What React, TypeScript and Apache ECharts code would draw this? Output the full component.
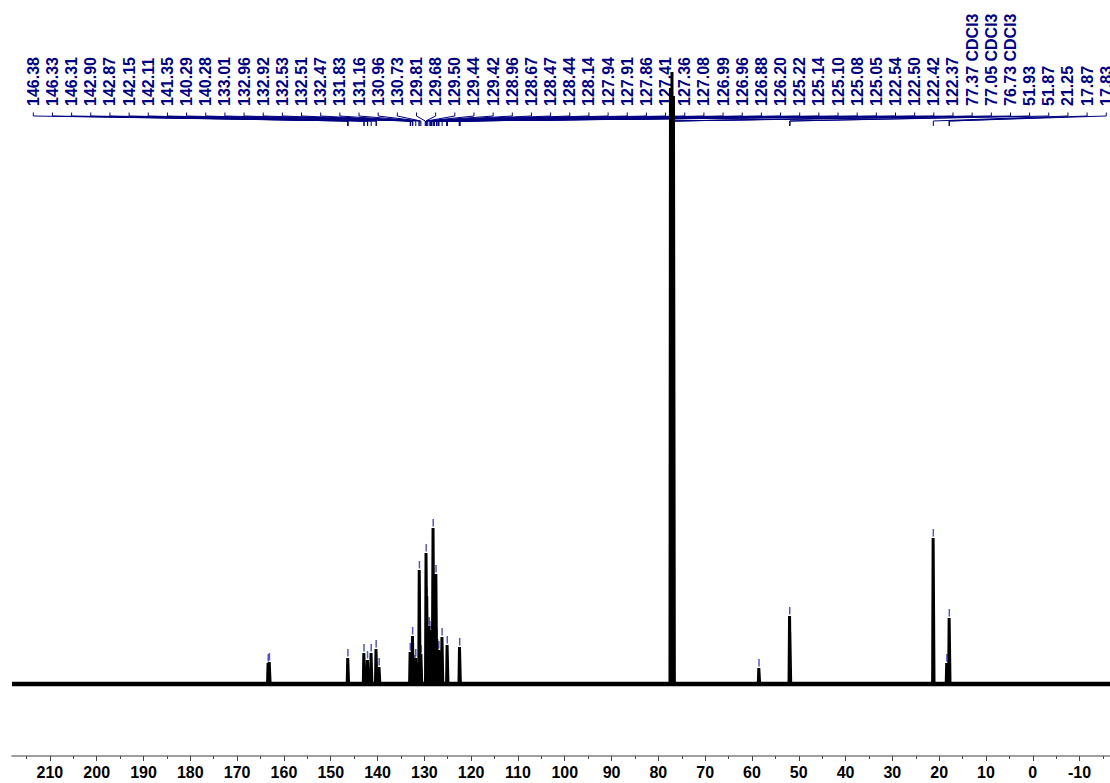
import React, { useEffect, useRef } from "react";
import * as echarts from "echarts";

// ---- data ----
const AXIS_MIN = -16.5;
const AXIS_MAX = 218.1;
const MAJOR_TICKS = [-10, 0, 10, 20, 30, 40, 50, 60, 70, 80, 90, 100, 110, 120, 130, 140, 150, 160, 170, 180, 190, 200, 210];
const MINOR_TICKS = [-15, -5, 5, 15, 25, 35, 45, 55, 65, 75, 85, 95, 105, 115, 125, 135, 145, 155, 165, 175, 185, 195, 205, 215];

const PEAK_LABELS = [
  "146.38", "146.33", "146.31", "142.90", "142.87", "142.15", "142.11", "141.35", "140.29", "140.28",
  "133.01", "132.96", "132.92", "132.53", "132.51", "132.47", "131.83", "131.16", "130.96", "130.73",
  "129.81", "129.68", "129.50", "129.44", "129.42", "128.96", "128.67", "128.47", "128.44", "128.14",
  "127.94", "127.91", "127.86", "127.41", "127.36", "127.08", "126.99", "126.96", "126.88", "126.20",
  "125.22", "125.14", "125.10", "125.08", "125.05", "122.54", "122.50", "122.42", "122.37",
  "77.37 CDCl3", "77.05 CDCl3", "76.73 CDCl3", "51.93", "51.87", "21.25", "17.87", "17.83",
];

// spectrum peaks (ppm, intensity above baseline)
const PEAK_PPM = [
  163.35, 163.1, 146.33, 142.89, 142.13, 141.35, 140.29, 139.65,
  133.0, 132.5, 132.0, 131.83, 131.05, 130.7, 129.6, 129.45, 128.96, 128.8, 128.45, 128.1,
  127.9, 127.5, 127.3, 126.9, 126.2, 125.1, 122.45,
  77.37, 77.05, 76.73, 58.5, 51.93, 51.87, 21.25, 18.35, 17.83,
];
const PEAK_HEIGHT = [
  21, 22, 26, 31, 24, 31, 35, 17,
  32, 48, 20, 26, 114, 30, 131, 88, 58, 54, 45, 156,
  60, 110, 45, 34, 47, 39, 37,
  596, 612, 588, 16, 68, 52, 146, 21, 66,
];

// ---- layout ----
const W = 1110;
const H = 783;
const LABEL_X0 = 33.3;
const LABEL_STEP = 19.16;
const NAVY = "#000080";

export default function App() {
  const ref = useRef<HTMLDivElement>(null);

  useEffect(() => {
    if (!ref.current) return;
    const chart = echarts.init(ref.current, undefined, { renderer: "svg" });

    const order = PEAK_PPM.map((p, i) => i).sort((a, b) => PEAK_PPM[b] - PEAK_PPM[a]);
    const spectrum: number[][] = [[AXIS_MAX, 0]];
    order.forEach((i) => {
      const p = PEAK_PPM[i];
      const h = PEAK_HEIGHT[i];
      spectrum.push([p + 0.15, 0], [p + 0.04, h], [p - 0.04, h], [p - 0.15, 0]);
    });
    spectrum.push([AXIS_MIN, 0]);

    const labelData = PEAK_LABELS.map((t, i) => [parseFloat(t), i]);
    const markerData = PEAK_PPM.map((p, i) => [p, PEAK_HEIGHT[i]]).filter((d) => d[1] < 400);

    chart.setOption({
      animation: false,
      backgroundColor: "#ffffff",
      grid: { left: 12, right: 0, top: 60, bottom: 27, containLabel: false },
      xAxis: [
        {
          type: "value",
          min: AXIS_MIN,
          max: AXIS_MAX,
          inverse: true,
          position: "bottom",
          splitLine: { show: false },
          axisLine: { show: true, onZero: false, lineStyle: { color: "#808080", width: 1.5 } },
          axisTick: { show: true, customValues: MAJOR_TICKS, length: 5, lineStyle: { color: "#444444", width: 1 } },
          axisLabel: {
            show: true,
            customValues: MAJOR_TICKS,
            formatter: (v: number) => String(v),
            color: "#000000",
            fontWeight: "bold",
            fontSize: 16,
            fontFamily: "Liberation Sans, Arial, sans-serif",
            margin: 8,
          },
        },
        {
          type: "value",
          min: AXIS_MIN,
          max: AXIS_MAX,
          inverse: true,
          position: "bottom",
          splitLine: { show: false },
          axisLine: { show: false, onZero: false },
          axisTick: { show: true, customValues: MINOR_TICKS, length: 3, lineStyle: { color: "#444444", width: 1 } },
          axisLabel: { show: false },
        },
      ],
      yAxis: { type: "value", min: -72, max: 624, show: false },
      series: [
        {
          type: "line",
          xAxisIndex: 0,
          data: [[AXIS_MAX, 0], [AXIS_MIN, 0]],
          showSymbol: false,
          lineStyle: { color: "#000000", width: 4.5 },
          silent: true,
        },
        {
          type: "line",
          xAxisIndex: 0,
          data: spectrum,
          showSymbol: false,
          lineStyle: { color: "#000000", width: 3 },
          silent: true,
        },
        {
          type: "custom",
          xAxisIndex: 0,
          clip: false,
          silent: true,
          data: markerData,
          renderItem: (params: any, api: any) => {
            const pt = api.coord([api.value(0), api.value(1)]);
            return {
              type: "line",
              shape: { x1: pt[0], y1: pt[1] - 9, x2: pt[0], y2: pt[1] - 1.5 },
              style: { stroke: "#3a3ab8", lineWidth: 1.5, opacity: 0.85 },
            };
          },
        },
        {
          type: "custom",
          xAxisIndex: 0,
          clip: false,
          silent: true,
          data: labelData,
          renderItem: (params: any, api: any) => {
            const ppm = api.value(0);
            const idx = api.value(1);
            const xp = api.coord([ppm, 0])[0];
            const xl = LABEL_X0 + idx * LABEL_STEP;
            return {
              type: "group",
              children: [
                {
                  type: "polyline",
                  shape: { points: [[xl, 112.5], [xl, 116], [xp, 121], [xp, 126]] },
                  style: { stroke: NAVY, lineWidth: 1, fill: null },
                },
                {
                  type: "text",
                  x: xl,
                  y: 106,
                  rotation: Math.PI / 2,
                  style: {
                    text: PEAK_LABELS[idx],
                    fill: NAVY,
                    font: "bold 16px 'Liberation Sans', Arial, sans-serif",
                    align: "left",
                    verticalAlign: "middle",
                  },
                },
              ],
            };
          },
        },
      ],
    });

    return () => chart.dispose();
  }, []);

  return (
    <div
      ref={ref}
      style={{ position: "absolute", left: 0, top: 0, width: W, height: H, background: "#fff" }}
    />
  );
}
